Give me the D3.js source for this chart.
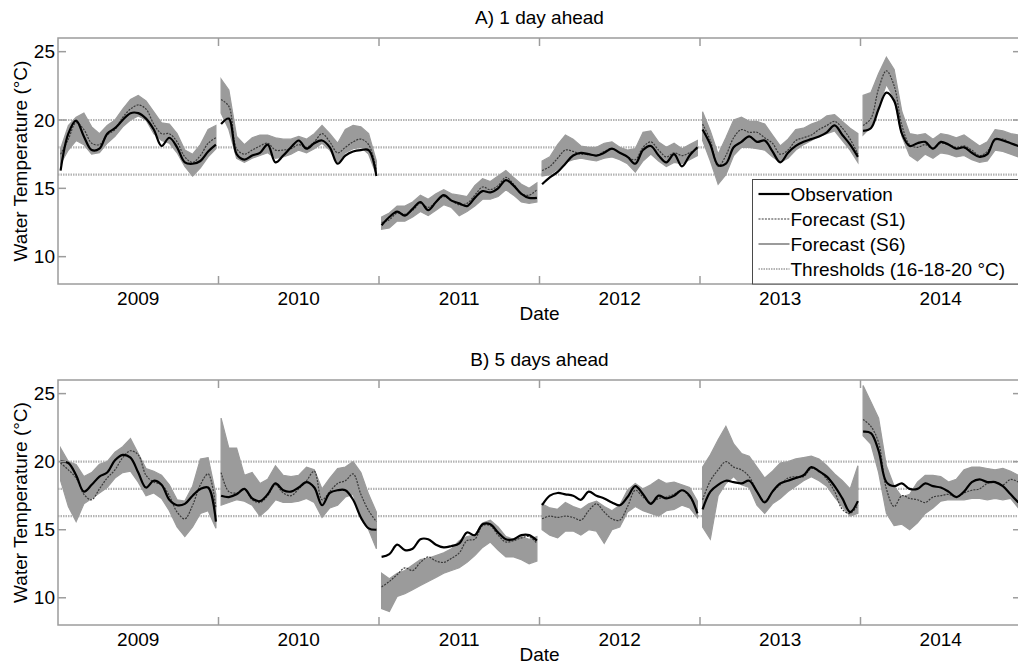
<!DOCTYPE html>
<html>
<head>
<meta charset="utf-8">
<script src="https://cdn.jsdelivr.net/npm/d3@7"></script>
<style>
  body { margin: 0; background: #fff; }
  svg { display: block; font-family: "Liberation Sans", Arial, sans-serif; }
</style>
</head>
<body>
<svg id="chart" width="1018" height="664"></svg>
<script>
// season blocks, one per year, sampled every 6 days
const years      = ["2009", "2010", "2011", "2012", "2013", "2014"];
const blockDays  = 124;
const days       = d3.range(2, 123, 6);
const thresholds = [16, 18, 20];
const yTicks     = [10, 15, 20, 25];

// A) 1 day ahead
const obsA = [
  [16.3, 19.0, 19.95, 18.8, 17.8, 17.9, 19.0, 19.4, 20.0, 20.5, 20.5, 20.1, 19.3, 18.1, 18.7, 18.0, 16.9, 16.8, 17.0, 17.7, 18.2],
  [19.7, 20.1, 17.5, 17.1, 17.4, 17.6, 18.2, 16.9, 17.4, 18.0, 18.5, 17.9, 18.3, 18.5, 18.0, 16.8, 17.4, 17.7, 17.8, 17.8, 15.9],
  [12.3, 12.9, 13.3, 13.0, 13.5, 14.0, 13.4, 14.0, 14.5, 14.1, 13.9, 13.7, 14.3, 14.8, 14.7, 15.0, 15.6, 15.2, 14.6, 14.3, 14.3],
  [15.3, 15.8, 16.2, 16.8, 17.4, 17.6, 17.5, 17.4, 17.6, 17.9, 17.6, 17.3, 16.8, 17.8, 18.1, 17.4, 16.9, 17.5, 16.6, 17.4, 18.0],
  [19.3, 18.2, 16.7, 16.8, 18.0, 18.4, 18.8, 18.4, 18.5, 17.7, 16.9, 17.6, 18.1, 18.4, 18.6, 18.8, 19.1, 19.6, 18.9, 18.2, 17.3],
  [19.2, 19.4, 20.8, 22.0, 21.4, 19.0, 18.1, 18.3, 18.4, 17.9, 18.4, 18.2, 17.9, 18.0, 17.6, 17.3, 17.5, 18.6, 18.5, 18.3, 18.1]
];
const s1A = [
  [17.5, 18.6, 19.8, 19.3, 18.3, 18.2, 18.9, 19.3, 20.2, 20.8, 21.1, 20.8, 19.7, 19.0, 19.0, 18.4, 17.3, 16.9, 17.4, 18.3, 18.7],
  [21.5, 21.0, 17.9, 17.5, 17.8, 18.1, 18.3, 17.8, 17.8, 17.9, 18.2, 18.0, 18.4, 19.0, 18.4, 17.6, 18.0, 18.4, 18.6, 18.2, 16.3],
  [12.5, 12.7, 13.2, 13.1, 13.4, 13.9, 13.6, 14.0, 14.4, 14.1, 13.8, 13.9, 14.5, 15.1, 14.9, 15.2, 15.8, 15.3, 14.6, 14.5, 14.9],
  [16.3, 16.6, 17.2, 17.8, 17.7, 17.5, 17.5, 17.4, 17.7, 17.9, 17.6, 17.3, 17.1, 18.0, 18.4, 17.8, 17.3, 17.6, 17.4, 17.6, 17.9],
  [19.7, 18.5, 16.6, 17.4, 18.7, 19.3, 19.1, 19.1, 18.7, 18.3, 17.5, 17.8, 18.5, 18.7, 18.9, 19.3, 19.6, 19.9, 19.4, 18.6, 17.5],
  [19.6, 20.1, 22.3, 23.6, 22.5, 19.6, 18.2, 18.0, 18.2, 17.9, 18.3, 18.2, 18.0, 18.1, 17.8, 17.4, 17.7, 18.5, 18.6, 18.3, 18.1]
];
const s6LoA = [
  [16.8, 17.8, 18.5, 18.2, 17.5, 17.6, 18.3, 18.8, 19.5, 20.0, 20.3, 20.0, 19.0, 18.5, 18.3, 17.6, 16.6, 15.9, 16.5, 17.3, 17.9],
  [20.5, 19.3, 17.2, 16.9, 17.2, 17.4, 17.6, 17.2, 17.3, 17.5, 17.8, 17.6, 17.9, 18.3, 17.8, 16.9, 17.6, 17.9, 18.0, 17.5, 16.0],
  [12.0, 12.1, 12.6, 12.6, 12.9, 13.3, 13.0, 13.4, 13.8, 13.6, 13.0, 13.3, 13.7, 14.2, 14.2, 14.4, 14.9, 14.5, 14.0, 13.9, 14.0],
  [15.9, 16.0, 16.4, 16.9, 17.1, 17.2, 17.1, 17.0, 17.2, 17.3, 17.1, 16.8, 16.2, 17.0, 17.5, 17.0, 16.6, 16.9, 16.8, 17.1, 17.4],
  [18.5, 17.0, 15.3, 16.0, 17.4, 18.0, 18.0, 17.9, 17.8, 17.3, 16.9, 17.2, 17.8, 18.2, 18.5, 18.8, 19.0, 19.2, 18.5, 17.8, 16.9],
  [18.9, 19.5, 21.0, 22.6, 21.6, 18.8, 17.4, 17.0, 17.5, 17.2, 17.6, 17.5, 17.3, 17.4, 17.1, 16.9, 17.0, 17.8, 17.7, 17.5, 17.3]
];
const s6HiA = [
  [17.9, 19.6, 20.2, 20.5, 19.5, 19.0, 19.6, 20.0, 20.8, 21.5, 21.8, 21.4, 20.6, 19.8, 19.7, 19.0, 17.8, 17.5, 18.2, 19.3, 19.6],
  [23.0, 22.2, 18.8, 18.2, 18.7, 18.9, 18.9, 18.7, 18.6, 18.6, 18.8, 18.6, 19.0, 19.6, 19.0, 18.3, 19.3, 19.6, 19.5, 19.0, 17.0],
  [12.9, 13.2, 13.7, 13.7, 14.0, 14.5, 14.2, 14.6, 14.9, 14.6, 14.5, 14.4, 15.2, 15.7, 15.5, 15.9, 16.3, 15.8, 15.3, 15.0, 15.4],
  [17.0, 17.3, 18.2, 18.9, 18.6, 18.1, 18.0, 18.0, 18.3, 18.4, 18.0, 17.8, 17.9, 19.1, 19.2, 18.4, 18.0, 18.3, 17.9, 18.2, 18.5],
  [20.6, 19.2, 17.5, 18.7, 20.0, 20.2, 19.9, 19.9, 19.7, 18.9, 18.1, 18.6, 19.3, 19.4, 19.7, 19.9, 20.3, 20.4, 19.9, 19.4, 19.0],
  [21.8, 22.0, 23.4, 24.6, 23.7, 20.6, 19.0, 18.9, 19.0, 18.6, 19.0, 18.9, 18.7, 18.9, 18.5, 18.1, 18.4, 19.3, 19.2, 19.0, 18.9]
];

// B) 5 days ahead
const obsB = [
  [20.0, 19.9, 19.0, 17.8, 18.3, 18.9, 19.2, 20.1, 20.5, 20.3, 19.2, 18.1, 18.6, 18.3, 17.2, 16.8, 16.9, 17.5, 18.0, 18.1, 15.6],
  [17.5, 17.4, 17.6, 18.0, 17.3, 17.1, 17.6, 18.4, 17.9, 17.8, 18.1, 18.5, 18.1, 16.8, 17.7, 17.9, 17.9, 17.2, 15.9, 15.1, 15.0],
  [13.0, 13.2, 13.9, 13.5, 13.6, 14.3, 14.3, 13.9, 13.7, 13.8, 14.0, 14.8, 14.6, 15.4, 15.4, 14.8, 14.3, 14.3, 14.6, 14.6, 14.2],
  [16.8, 17.5, 17.7, 17.6, 17.5, 17.2, 17.8, 17.5, 17.3, 17.0, 16.8, 17.4, 18.2, 17.6, 16.9, 17.5, 17.3, 17.5, 17.9, 17.5, 16.2],
  [16.5, 17.8, 18.3, 18.6, 18.5, 18.4, 18.6, 17.8, 17.0, 17.8, 18.4, 18.6, 18.8, 19.0, 19.6, 19.3, 18.9, 18.2, 17.3, 16.3, 17.1],
  [22.2, 22.1, 20.8, 18.5, 18.2, 18.4, 18.0, 18.0, 18.4, 18.2, 18.1, 17.8, 17.4, 17.8, 18.5, 18.7, 18.5, 18.5, 18.2, 17.6, 17.0]
];
const s1B = [
  [19.9, 19.4, 18.8, 17.6, 17.2, 18.0, 18.8, 19.4, 20.3, 20.8, 20.5, 19.0, 18.5, 18.3, 17.5, 16.3, 15.8, 16.8, 18.3, 19.1, 16.6],
  [19.2, 17.8, 17.7, 18.0, 17.2, 17.0, 17.5, 18.3, 17.7, 17.5, 18.0, 18.6, 19.3, 17.2, 17.8, 18.4, 18.6, 19.1, 17.6, 16.4, 15.6],
  [10.8, 11.2, 11.7, 12.2, 12.0, 12.6, 13.0, 12.7, 12.6, 12.9, 13.3, 14.2, 14.3, 15.3, 15.3, 14.6, 14.1, 14.2, 14.4, 14.5, 14.0],
  [15.8, 16.0, 15.9, 16.0, 15.9, 15.7, 16.4, 16.9, 16.3, 15.8, 15.7, 16.7, 17.9, 17.4, 17.0, 17.3, 17.4, 17.6, 17.9, 17.4, 16.4],
  [17.2, 18.6, 19.4, 20.0, 19.6, 19.4, 18.9, 17.8, 17.1, 17.8, 18.3, 18.8, 18.9, 18.9, 19.5, 19.3, 18.7, 17.8, 16.5, 16.2, 16.8],
  [23.1, 22.6, 21.4, 18.0, 16.7, 17.5, 17.3, 17.2, 17.0, 17.4, 17.5, 17.6, 17.4, 17.7, 17.9, 18.0, 18.4, 18.5, 18.3, 18.7, 18.5]
];
const s6LoB = [
  [18.6, 16.7, 15.6, 16.9, 17.3, 17.7, 18.1, 18.8, 19.2, 19.3, 18.5, 17.5, 17.7, 17.3, 16.4, 15.2, 14.5, 15.2, 16.2, 16.4, 15.1],
  [16.8, 17.0, 17.2, 17.1, 16.8, 16.0, 16.5, 17.2, 17.0, 17.0, 17.1, 17.3, 17.0, 15.9, 16.6, 16.8, 17.4, 17.6, 15.8, 15.0, 13.6],
  [9.2, 9.0, 10.1, 10.3, 10.6, 10.9, 11.2, 11.5, 11.8, 12.0, 12.2, 12.6, 13.1, 13.7, 14.1, 13.5, 13.0, 13.0, 12.8, 12.5, 12.7],
  [15.0, 14.6, 14.4, 14.9, 14.9, 14.6, 15.0, 14.9, 14.0, 15.0, 15.2, 16.3, 16.7, 16.4, 16.2, 16.0, 16.4, 16.5, 16.8, 16.6, 15.9],
  [15.2, 14.3, 17.5, 18.4, 18.9, 18.3, 18.1, 16.8, 16.2, 16.9, 17.3, 17.8, 18.2, 18.6, 18.9, 18.6, 18.2, 17.4, 16.7, 16.0, 16.2],
  [21.9, 21.3, 19.2, 16.2, 15.3, 15.4, 15.0, 15.5, 16.2, 16.6, 17.1, 17.2, 17.2, 17.2, 17.3, 17.3, 17.2, 17.3, 17.2, 17.3, 16.6]
];
const s6HiB = [
  [21.0, 20.0, 19.8, 18.9, 19.2, 19.8, 20.0, 20.7, 21.1, 21.7, 20.6, 19.5, 19.3, 19.0, 18.3, 17.2, 17.1, 18.2, 20.2, 20.3, 17.6],
  [23.2, 21.0, 21.0, 19.0, 19.2, 18.4, 18.7, 19.7, 19.0, 18.9, 19.0, 19.6, 19.4, 18.0, 18.8, 19.5, 19.6, 20.0, 19.2, 17.6, 16.3],
  [11.8, 11.4, 11.8, 12.0, 12.4, 12.8, 12.9, 13.1, 13.3, 13.6, 14.2, 14.5, 14.6, 15.5, 15.7, 15.2, 14.5, 14.3, 14.5, 14.3, 14.5],
  [16.9, 16.6, 16.5, 17.0, 16.7, 16.5, 16.9, 17.1, 16.7, 16.4, 16.8, 17.9, 18.4, 18.0, 18.3, 18.7, 18.4, 18.5, 18.3, 18.1, 17.1],
  [19.6, 20.5, 21.6, 22.6, 21.3, 20.6, 20.4, 19.6, 18.8, 19.3, 19.9, 20.0, 20.2, 20.3, 20.4, 20.2, 19.7, 19.1, 18.6, 18.0, 19.7],
  [25.6, 24.4, 23.2, 19.7, 18.2, 17.4, 17.6, 18.5, 19.0, 19.0, 18.9, 18.5, 18.7, 19.4, 19.6, 19.6, 19.5, 19.4, 19.5, 19.3, 19.0]
];

const legendItems = ["Observation", "Forecast (S1)", "Forecast (S6)", "Thresholds (16-18-20 °C)"];

const svg   = d3.select("#chart");
const left  = 58, right = 1021;
const FONT  = "19px";
const AXIS  = "#9c9c9c";

const x = d3.scaleLinear()
  .domain([0, years.length * blockDays])
  .range([left, right]);

drawPanel({ top: 38,  bottom: 284, title: "A) 1 day ahead",   obs: obsA, s1: s1A, lo: s6LoA, hi: s6HiA, legend: true });
drawPanel({ top: 380, bottom: 625, title: "B) 5 days ahead",  obs: obsB, s1: s1B, lo: s6LoB, hi: s6HiB, legend: false });

function drawPanel(p) {
  const y = d3.scaleLinear().domain([8, 26]).range([p.bottom, p.top]);
  const g = svg.append("g");
  const xPos = (yi, k) => x(yi * blockDays + days[k]);

  // thresholds
  g.selectAll(".thr")
    .data(thresholds)
    .join("line")
      .attr("x1", left).attr("x2", right)
      .attr("y1", d => y(d)).attr("y2", d => y(d))
      .attr("stroke", "#b4b4b4")
      .attr("stroke-width", 2.2)
      .attr("stroke-dasharray", "1.5,1");

  const band = d3.area()
    .x((d, k) => xPos(d.yi, k))
    .y0(d => y(d.lo))
    .y1(d => y(d.hi));

  const line = d3.line()
    .x((d, k) => xPos(d.yi, k))
    .y(d => y(d.v))
    .curve(d3.curveCatmullRom);

  years.forEach((yr, yi) => {
    const bandData = days.map((_, k) => ({ yi, lo: p.lo[yi][k], hi: p.hi[yi][k] }));
    g.append("path")
      .attr("d", band(bandData))
      .attr("fill", "#9b9b9b")
      .attr("stroke", "#9b9b9b")
      .attr("stroke-width", 1.2);

    g.append("path")
      .attr("d", line(p.s1[yi].map(v => ({ yi, v }))))
      .attr("fill", "none")
      .attr("stroke", "#3a3a3a")
      .attr("stroke-width", 1.2)
      .attr("stroke-dasharray", "2,1.2");

    g.append("path")
      .attr("d", line(p.obs[yi].map(v => ({ yi, v }))))
      .attr("fill", "none")
      .attr("stroke", "#000")
      .attr("stroke-width", 2.2);

    // year label centred in its block
    g.append("text")
      .attr("x", x((yi + 0.5) * blockDays))
      .attr("y", p.bottom + 20.5)
      .attr("text-anchor", "middle")
      .style("font-size", FONT)
      .text(yr);
  });

  // axes box
  g.append("rect")
    .attr("x", left).attr("y", p.top)
    .attr("width", right - left).attr("height", p.bottom - p.top)
    .attr("fill", "none")
    .attr("stroke", AXIS)
    .attr("stroke-width", 1.5);

  // block boundary ticks (inward, top and bottom)
  const bounds = d3.range(1, years.length).map(i => i * blockDays);
  g.selectAll(".xt")
    .data(bounds.flatMap(b => [[b, p.bottom, p.bottom - 8], [b, p.top, p.top + 8]]))
    .join("line")
      .attr("x1", d => x(d[0])).attr("x2", d => x(d[0]))
      .attr("y1", d => d[1]).attr("y2", d => d[2])
      .attr("stroke", AXIS).attr("stroke-width", 1.5);

  // y ticks, left and right
  g.selectAll(".yt")
    .data(yTicks.flatMap(t => [[t, left, left + 8], [t, right, right - 8]]))
    .join("line")
      .attr("x1", d => d[1]).attr("x2", d => d[2])
      .attr("y1", d => y(d[0])).attr("y2", d => y(d[0]))
      .attr("stroke", AXIS).attr("stroke-width", 1.5);

  g.selectAll(".yl")
    .data(yTicks)
    .join("text")
      .attr("x", left - 3)
      .attr("y", d => y(d))
      .attr("dy", "0.35em")
      .attr("text-anchor", "end")
      .style("font-size", FONT)
      .text(d => d);

  g.append("text")
    .attr("transform", `translate(27,${(p.top + p.bottom) / 2}) rotate(-90)`)
    .attr("text-anchor", "middle")
    .style("font-size", FONT)
    .text("Water Temperature (°C)");

  g.append("text")
    .attr("x", (left + right) / 2)
    .attr("y", p.bottom + 36)
    .attr("text-anchor", "middle")
    .style("font-size", FONT)
    .text("Date");

  g.append("text")
    .attr("x", (left + right) / 2)
    .attr("y", p.top - 14.5)
    .attr("text-anchor", "middle")
    .style("font-size", FONT)
    .text(p.title);

  if (p.legend) drawLegend(g, p.bottom);
}

function drawLegend(g, bottom) {
  const lx = 752.5, ly = 179.5;
  const lg = g.append("g");
  lg.append("rect")
    .attr("x", lx).attr("y", ly)
    .attr("width", 300).attr("height", bottom - ly)
    .attr("fill", "#fff")
    .attr("stroke", "#4a4a4a")
    .attr("stroke-width", 1);

  const styles = [
    { stroke: "#000",    width: 2.2, dash: null },
    { stroke: "#3a3a3a", width: 1.2, dash: "2,1.2" },
    { stroke: "#9b9b9b", width: 2,   dash: null },
    { stroke: "#b4b4b4", width: 2.2, dash: "1.5,1" }
  ];

  legendItems.forEach((label, i) => {
    const cy = ly + 14.5 + i * 25;
    lg.append("line")
      .attr("x1", lx + 6).attr("x2", lx + 37)
      .attr("y1", cy).attr("y2", cy)
      .attr("stroke", styles[i].stroke)
      .attr("stroke-width", styles[i].width)
      .attr("stroke-dasharray", styles[i].dash);
    lg.append("text")
      .attr("x", lx + 38)
      .attr("y", cy)
      .attr("dy", "0.35em")
      .style("font-size", FONT)
      .text(label);
  });
}
</script>
</body>
</html>
